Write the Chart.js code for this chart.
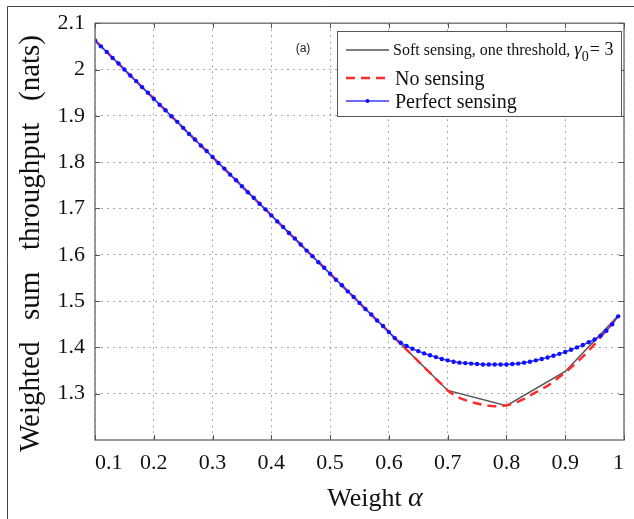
<!DOCTYPE html>
<html>
<head>
<meta charset="utf-8">
<script src="https://cdn.jsdelivr.net/npm/chart.js@4.4.1/dist/chart.umd.min.js"></script>
<style>
html,body{margin:0;padding:0;background:#fff;}
#wrap{position:relative;width:634px;height:519px;}
</style>
</head>
<body>
<div id="wrap"><canvas id="c" width="634" height="519"></canvas></div>
<script>
// ---- data ----
const alpha = [0.10,0.11,0.12,0.13,0.14,0.15,0.16,0.17,0.18,0.19,
  0.20,0.21,0.22,0.23,0.24,0.25,0.26,0.27,0.28,0.29,
  0.30,0.31,0.32,0.33,0.34,0.35,0.36,0.37,0.38,0.39,
  0.40,0.41,0.42,0.43,0.44,0.45,0.46,0.47,0.48,0.49,
  0.50,0.51,0.52,0.53,0.54,0.55,0.56,0.57,0.58,0.59,
  0.60,0.61,0.62,0.63,0.64,0.65,0.66,0.67,0.68,0.69,
  0.70,0.71,0.72,0.73,0.74,0.75,0.76,0.77,0.78,0.79,
  0.80,0.81,0.82,0.83,0.84,0.85,0.86,0.87,0.88,0.89,
  0.90,0.91,0.92,0.93,0.94,0.95,0.96,0.97,0.98,0.99];

const noSensing = [2.063,2.050,2.038,2.025,2.013,2.000,1.987,1.975,1.962,1.950,
  1.937,1.924,1.912,1.899,1.887,1.874,1.861,1.849,1.836,1.824,
  1.811,1.798,1.786,1.773,1.761,1.748,1.735,1.723,1.710,1.698,
  1.685,1.672,1.660,1.647,1.635,1.622,1.609,1.597,1.584,1.572,
  1.559,1.546,1.534,1.521,1.509,1.496,1.483,1.471,1.458,1.446,
  1.433,1.420,1.408,1.395,1.383,1.370,1.357,1.345,1.332,1.320,
  1.307,1.298,1.291,1.286,1.282,1.279,1.276,1.274,1.273,1.273,
  1.275,1.278,1.283,1.289,1.296,1.303,1.310,1.317,1.326,1.336,
  1.346,1.357,1.368,1.380,1.393,1.407,1.422,1.437,1.452,1.468];

const perfectSensing = [2.063,2.050,2.038,2.025,2.013,2.000,1.987,1.975,1.962,1.950,
  1.937,1.924,1.912,1.899,1.887,1.874,1.861,1.849,1.836,1.824,
  1.811,1.798,1.786,1.773,1.761,1.748,1.735,1.723,1.710,1.698,
  1.685,1.672,1.660,1.647,1.635,1.622,1.609,1.597,1.584,1.572,
  1.559,1.546,1.534,1.521,1.509,1.496,1.483,1.471,1.458,1.446,
  1.433,1.420,1.410,1.403,1.397,1.392,1.387,1.383,1.379,1.375,
  1.372,1.369,1.367,1.366,1.365,1.364,1.363,1.363,1.363,1.363,
  1.363,1.364,1.365,1.367,1.369,1.372,1.375,1.378,1.382,1.386,
  1.390,1.395,1.400,1.405,1.411,1.417,1.425,1.436,1.450,1.467];

const softAlpha = [0.1,0.2,0.3,0.4,0.5,0.6,0.7,0.8,0.9,0.99];
const softSensing = [2.063,1.937,1.811,1.685,1.559,1.433,1.307,1.274,1.348,1.468];

const xTickLabels = ['0.1','0.2','0.3','0.4','0.5','0.6','0.7','0.8','0.9','1'];
const yTickLabels = ['1.3','1.4','1.5','1.6','1.7','1.8','1.9','2','2.1'];

const legendLabels = ['Soft sensing, one threshold, ', 'No sensing', 'Perfect sensing'];
const xTitle = 'Weight ';
const yTitleWords = ['Weighted', 'sum', 'throughput', '(nats)'];
const panelLabel = '(a)';

const SERIF = "'Liberation Serif','DejaVu Serif',serif";
const SANS = "'Liberation Sans','DejaVu Sans',sans-serif";
const pts = (xs, ys) => xs.map((a, i) => ({x: a, y: ys[i]}));

const decor = {
  id: 'decor',
  afterDraw(chart) {
    const ctx = chart.ctx, a = chart.chartArea;
    const xs = chart.scales.x, ys = chart.scales.y;
    ctx.save();
    // outer frame
    ctx.strokeStyle = '#444'; ctx.lineWidth = 1;
    ctx.beginPath(); ctx.moveTo(7.5, 519); ctx.lineTo(7.5, 6.5); ctx.lineTo(634, 6.5); ctx.stroke();
    // plot box
    ctx.strokeStyle = '#7a7a7a'; ctx.lineWidth = 1.5;
    ctx.strokeRect(a.left, a.top, a.right - a.left, a.bottom - a.top);
    // inside ticks
    ctx.lineWidth = 1; ctx.strokeStyle = '#555';
    ctx.beginPath();
    xs.ticks.forEach(t => {
      const p = Math.round(xs.getPixelForValue(t.value)) + 0.5;
      ctx.moveTo(p, a.bottom); ctx.lineTo(p, a.bottom - 5);
      ctx.moveTo(p, a.top); ctx.lineTo(p, a.top + 5);
    });
    ys.ticks.forEach(t => {
      const p = Math.round(ys.getPixelForValue(t.value)) + 0.5;
      ctx.moveTo(a.left, p); ctx.lineTo(a.left + 5, p);
      ctx.moveTo(a.right, p); ctx.lineTo(a.right - 5, p);
    });
    ctx.stroke();
    // panel label
    ctx.fillStyle = '#222'; ctx.font = '12px ' + SANS;
    ctx.textAlign = 'center'; ctx.textBaseline = 'middle';
    ctx.fillText(panelLabel, 303, 49);
    // x title with italic alpha
    ctx.fillStyle = '#111';
    ctx.font = '26px ' + SERIF; ctx.textBaseline = 'alphabetic'; ctx.textAlign = 'left';
    const w1 = ctx.measureText(xTitle).width;
    ctx.font = 'italic 28px ' + SERIF;
    const w2 = ctx.measureText('α').width;
    const x0 = 375 - (w1 + w2) / 2;
    ctx.font = '26px ' + SERIF; ctx.fillText(xTitle, x0, 506);
    ctx.font = 'italic 28px ' + SERIF; ctx.fillText('α', x0 + w1, 506);
    // y title, rotated, words spread from y=452 up to y=35
    ctx.save();
    ctx.translate(39, 452); ctx.rotate(-Math.PI / 2);
    ctx.font = '29px ' + SERIF; ctx.textAlign = 'left'; ctx.textBaseline = 'alphabetic';
    const ww = yTitleWords.map(w => ctx.measureText(w).width);
    const gap = (417 - ww.reduce((s, v) => s + v, 0)) / (yTitleWords.length - 1);
    let pos = 0;
    yTitleWords.forEach((w, i) => { ctx.fillText(w, pos, 0); pos += ww[i] + gap; });
    ctx.restore();
    // legend
    const L = {x: 337, y: 31, w: 284, h: 85};
    ctx.fillStyle = '#fff'; ctx.fillRect(L.x, L.y, L.w, L.h);
    ctx.strokeStyle = '#555'; ctx.lineWidth = 1;
    ctx.strokeRect(L.x + 0.5, L.y + 0.5, L.w, L.h);
    const rows = [50, 78, 101];
    ctx.lineWidth = 1.6; ctx.strokeStyle = '#555'; ctx.setLineDash([]);
    ctx.beginPath(); ctx.moveTo(346, rows[0]); ctx.lineTo(389, rows[0]); ctx.stroke();
    ctx.lineWidth = 2.5; ctx.strokeStyle = '#ff2a2a'; ctx.setLineDash([9, 6]);
    ctx.beginPath(); ctx.moveTo(346, rows[1]); ctx.lineTo(389, rows[1]); ctx.stroke();
    ctx.setLineDash([]); ctx.lineWidth = 1.5; ctx.strokeStyle = '#3a3aff';
    ctx.beginPath(); ctx.moveTo(346, rows[2]); ctx.lineTo(389, rows[2]); ctx.stroke();
    ctx.fillStyle = '#1010ff'; ctx.beginPath(); ctx.arc(367.5, rows[2], 2, 0, Math.PI * 2); ctx.fill();
    ctx.fillStyle = '#111'; ctx.textAlign = 'left'; ctx.textBaseline = 'alphabetic';
    ctx.font = '16px ' + SERIF;
    ctx.fillText(legendLabels[0], 393, rows[0] + 5);
    let tx = 393 + ctx.measureText(legendLabels[0]).width;
    ctx.font = 'italic 19px ' + SERIF; ctx.fillText('γ', tx, rows[0] + 5);
    tx += ctx.measureText('γ').width;
    ctx.font = '14px ' + SERIF; ctx.fillText('0', tx, rows[0] + 11);
    tx += ctx.measureText('0').width + 1;
    ctx.font = '18px ' + SERIF; ctx.fillText('= 3', tx, rows[0] + 5);
    ctx.font = '20px ' + SERIF;
    ctx.fillText(legendLabels[1], 395, rows[1] + 7);
    ctx.fillText(legendLabels[2], 395, rows[2] + 7);
    ctx.restore();
  }
};

new Chart(document.getElementById('c'), {
  type: 'line',
  data: {
    datasets: [
      {label: 'Perfect sensing', data: pts(alpha, perfectSensing), borderColor: '#3a3aff', borderWidth: 1.5,
       pointRadius: 2.2, pointBackgroundColor: '#1010ff', pointBorderWidth: 0, order: 1, tension: 0},
      {label: 'No sensing', data: pts(alpha, noSensing), borderColor: '#ff2a2a', borderWidth: 2.5,
       borderDash: [9, 6], pointRadius: 0, order: 2, tension: 0},
      {label: 'Soft sensing, one threshold, γ0 = 3', data: pts(softAlpha, softSensing), borderColor: '#555',
       borderWidth: 1.5, pointRadius: 0, order: 3, tension: 0}
    ]
  },
  options: {
    responsive: false, animation: false,
    layout: {padding: {left: 0, right: 7, top: 23, bottom: 0}},
    plugins: {legend: {display: false}, tooltip: {enabled: false}},
    scales: {
      x: {
        type: 'linear', min: 0.1, max: 1.0,
        afterFit: s => { s.height = 79; },
        afterBuildTicks: s => { s.ticks = xTickLabels.map(v => ({value: parseFloat(v)})); },
        ticks: {font: {family: SERIF, size: 22}, color: '#111', padding: 10, maxRotation: 0, autoSkip: false,
          align: 'inner', callback: (v, i) => xTickLabels[i]},
        grid: {color: '#a8a8a8', lineWidth: 1, drawTicks: false},
        border: {display: false, dash: [2, 4]}
      },
      y: {
        min: 1.2, max: 2.1,
        afterFit: s => { s.width = 95; },
        afterBuildTicks: s => { s.ticks = yTickLabels.map(v => ({value: parseFloat(v)})); },
        ticks: {font: {family: SERIF, size: 22}, color: '#111', padding: 10, autoSkip: false,
          callback: (v, i) => yTickLabels[i]},
        grid: {color: '#a8a8a8', lineWidth: 1, drawTicks: false},
        border: {display: false, dash: [2, 4]}
      }
    }
  },
  plugins: [decor]
});
</script>
</body>
</html>
